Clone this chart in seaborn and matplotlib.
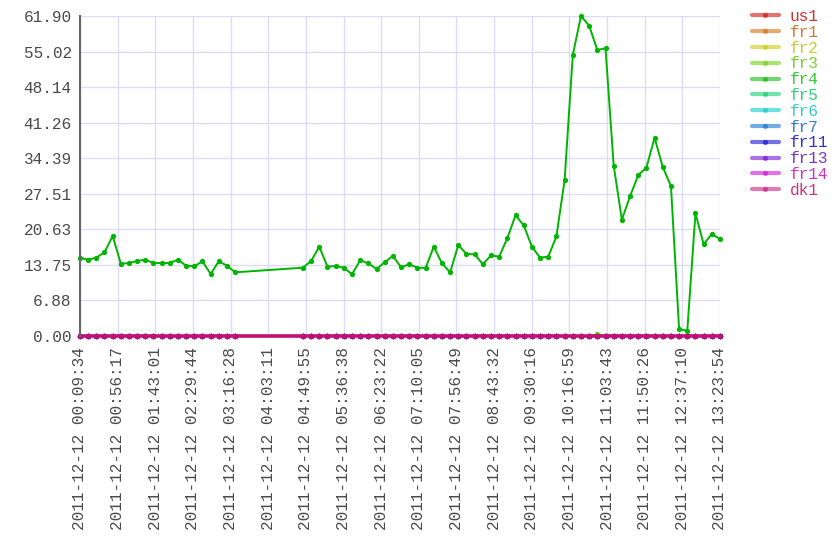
import numpy as np
import pandas as pd
import matplotlib
matplotlib.use('Agg')
import matplotlib.pyplot as plt
import matplotlib.dates as mdates
from matplotlib.lines import Line2D
import seaborn as sns

# sample times (2011-12-12), gap between ~03:22 and ~04:46
day = '2011-12-12'
times = ['00:09:34', '00:19:42', '00:29:50', '00:39:58', '00:50:06', '01:00:14',
         '01:10:22', '01:20:30', '01:30:38', '01:40:46', '01:50:54', '02:01:02',
         '02:11:10', '02:21:18', '02:31:26', '02:41:34', '02:51:42', '03:01:50',
         '03:11:58', '03:22:06',
         '04:46:15', '04:56:24', '05:06:33', '05:16:42', '05:26:51', '05:37:00',
         '05:47:09', '05:57:18', '06:07:27', '06:17:36', '06:27:45', '06:37:54',
         '06:48:03', '06:58:12', '07:08:21', '07:18:30', '07:28:39', '07:38:48',
         '07:48:57', '07:59:06', '08:09:15', '08:19:24', '08:29:33', '08:39:42',
         '08:49:51', '09:00:00', '09:10:09', '09:20:18', '09:30:27', '09:40:36',
         '09:50:45', '10:00:54', '10:11:03', '10:21:12', '10:31:21', '10:41:30',
         '10:51:39', '11:01:48', '11:11:57', '11:22:06', '11:32:15', '11:42:24',
         '11:52:33', '12:02:42', '12:12:51', '12:23:00', '12:33:09', '12:43:18',
         '12:53:27', '13:03:36', '13:13:45', '13:23:54']

fr4 = [15.15, 14.76, 15.15, 16.19, 19.34, 13.99, 14.12, 14.51, 14.76, 14.12,
       14.12, 14.12, 14.76, 13.60, 13.48, 14.45, 12.00, 14.45, 13.60, 12.32,
       13.21, 14.51, 17.27, 13.41, 13.54, 13.21, 11.94, 14.64, 14.06, 12.96,
       14.26, 15.48, 13.29, 13.87, 13.21, 13.15, 17.27, 14.06, 12.32, 17.60,
       15.86, 15.80, 13.87, 15.61, 15.34, 18.96, 23.35, 21.41, 17.27, 15.15,
       15.34, 19.29, 30.18, 54.36, 61.90, 60.02, 55.32, 55.65, 32.94, 22.50,
       27.02, 31.14, 32.56, 38.36, 32.69, 29.02, 1.30, 1.03, 23.74, 17.74,
       19.73, 18.76]

zeros = [0.0] * len(times)
fr3 = list(zeros)
fr3[56] = 0.35  # tiny blip around 10:51

series = ['us1', 'fr1', 'fr2', 'fr3', 'fr4', 'fr5', 'fr6', 'fr7',
          'fr11', 'fr13', 'fr14', 'dk1']
values = {s: zeros for s in series}
values['fr3'] = fr3
values['fr4'] = fr4

colors = ['#cc0000', '#cc6600', '#c8c800', '#66cc00', '#00b400', '#00cc66',
          '#00c8c8', '#0066cc', '#0000cc', '#6600cc', '#cc00cc', '#c0107a']
text_colors = ['#cc3333', '#cc7a33', '#c8c832', '#7acc33', '#33cc33', '#33cc7a',
               '#33cccc', '#337acc', '#3333cc', '#7a33cc', '#cc33cc', '#cc337a']

ytick_labels = ['0.00', '6.88', '13.75', '20.63', '27.51', '34.39',
                '41.26', '48.14', '55.02', '61.90']
ymax = 61.90

# long table for seaborn
stamps = pd.to_datetime([day + ' ' + t for t in times])
df = pd.concat([pd.DataFrame({'time': stamps, 'series': s, 'value': values[s]})
                for s in series], ignore_index=True)

sns.set_style('white')
plt.rcParams['font.family'] = ['Liberation Mono', 'DejaVu Sans Mono']

fig = plt.figure(figsize=(8.4, 5.6), dpi=100)
ax = fig.add_axes([80 / 840, 1 - 336 / 560, 640 / 840, 320 / 560])

sns.lineplot(data=df, x='time', y='value', hue='series', hue_order=series,
             palette=dict(zip(series, colors)), estimator=None,
             marker='o', markersize=3.8, markeredgewidth=0, linewidth=1.4,
             legend=False, ax=ax)
for ln in ax.get_lines():
    ln.set_clip_on(False)
ax.get_lines()[-1].set_linewidth(2.6)  # dk1 on top of the zero series

# axes
ax.set_ylim(0, ymax)
ax.set_yticks(np.linspace(0, ymax, len(ytick_labels)))
ax.set_yticklabels(ytick_labels)
t0 = mdates.date2num(stamps[0])
t1 = mdates.date2num(stamps[-1])
ax.set_xlim(t0, t1)
ax.set_xticks(np.linspace(t0, t1, 18))
ax.xaxis.set_major_formatter(mdates.DateFormatter('%Y-%m-%d %H:%M:%S'))
plt.setp(ax.get_xticklabels(), rotation=90, ha='center', va='top')
ax.tick_params(axis='both', labelsize=11.6, labelcolor='#4a4a4a')
ax.tick_params(axis='x', length=4, color='#dcdcf8', pad=4)
ax.tick_params(axis='y', length=5, color='#777777', pad=1)
ax.set_xlabel('')
ax.set_ylabel('')
ax.grid(True, color='#dcdcf8', linewidth=1)
ax.set_axisbelow(True)
for side in ['top', 'right', 'bottom']:
    ax.spines[side].set_visible(False)
ax.spines['left'].set_color('#666666')
ax.spines['left'].set_linewidth(1.5)

# legend
handles = [Line2D([0], [0], color=c, alpha=0.55, lw=3, marker='o', markersize=3.8,
                  markerfacecolor=c, markeredgewidth=0) for c in colors]
leg = fig.legend(handles, series, loc='upper left', bbox_to_anchor=(752 / 840, 1 - 9 / 560),
                 frameon=False, fontsize=11.6, handlelength=1.65, handletextpad=0.7,
                 labelspacing=0.05, borderpad=0, borderaxespad=0)
for txt, c in zip(leg.get_texts(), text_colors):
    txt.set_color(c)

fig.savefig('out.png', dpi=100)
